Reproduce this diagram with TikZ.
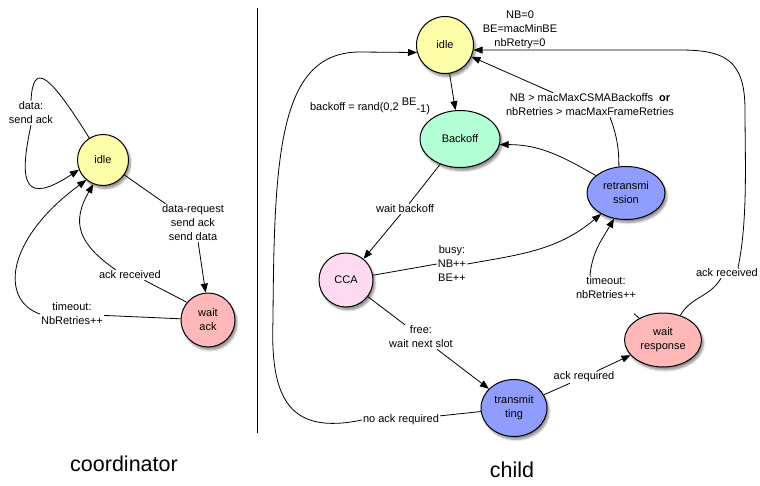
\documentclass[tikz,border=0pt]{standalone}
\usepackage{fontspec}
\setmainfont{Liberation Sans}
\usetikzlibrary{shapes.geometric,arrows.meta,shadows.blur,calc}
\definecolor{cyellow}{HTML}{FFFFAA}
\definecolor{cmint}{HTML}{B3FFD6}
\definecolor{cpink}{HTML}{FFDAF1}
\definecolor{cblue}{HTML}{8F9DFF}
\definecolor{csalmon}{HTML}{FFB8B8}
\begin{document}
\begin{tikzpicture}[x=1pt,y=-1pt,
  every node/.style={font=\fontsize{11}{14}\selectfont},
  st/.style={draw=black, line width=1pt, align=center, inner sep=0pt,
    blur shadow={shadow xshift=2pt, shadow yshift=-3pt, shadow blur steps=6, shadow opacity=45}},
  circ/.style={st, circle},
  ell/.style={st, ellipse},
  lbl/.style={align=center, inner sep=1pt},
  big/.style={font=\fontsize{21.5}{26}\selectfont},
  edge/.style={line width=0.8pt},
  arr/.style={edge, -{Triangle[length=9pt,width=7pt]}},
]
\useasboundingbox (0,0) rectangle (760,485);

% divider
\coordinate (dtop) at (257,8);
\coordinate (dbot) at (257,433);
\draw[edge] (dtop) -- (dbot);

% states
\node[circ, fill=cyellow, minimum size=51pt] (cidle) at (103,160) {idle};
\node[circ, fill=csalmon, minimum size=54pt] (wack) at (208,320) {wait\\ack};
\node[circ, fill=cyellow, minimum size=57pt] (ridle) at (445,45) {idle};
\node[ell, fill=cmint, minimum width=80pt, minimum height=57pt] (backoff) at (460,139) {Backoff};
\node[circ, fill=cpink, minimum size=54pt] (cca) at (346,280) {CCA};
\node[ell, fill=cblue, minimum width=78pt, minimum height=53pt] (retrans) at (626,193) {retransmi\\ssion};
\node[ell, fill=csalmon, minimum width=77pt, minimum height=54pt] (wresp) at (663,340) {wait\\response};
\node[ell, fill=cblue, minimum width=66pt, minimum height=57pt] (transmit) at (514,408) {transmit\\ting};

% labels
\node[lbl] (dlbl) at (31,113) {data:\\send ack};
\node[lbl] (drlbl) at (193,223) {data-request\\send ack\\send data};
\node[lbl] (arlbl) at (130,275) {ack received};
\node[lbl] (tolbl) at (72,314) {timeout:\\NbRetries++};
\node[lbl] (nb0) at (520,30) {NB=0\\BE=macMinBE\\nbRetry=0};
\node[lbl] (bolbl) at (370,106) {backoff = rand(0,2 \raisebox{5pt}{BE}\raisebox{-2pt}{-1)}};
\node[lbl] (nblbl) at (590,105) {NB > macMaxCSMABackoffs\hspace{6pt}\textbf{or}\\nbRetries > macMaxFrameRetries};
\node[lbl] (wblbl) at (405,209) {wait backoff};
\node[lbl] (busy) at (452,264) {busy:\\NB++\\BE++};
\node[lbl] (free) at (421,337) {free:\\wait next slot};
\node[lbl] (ackreq) at (584,377) {ack required};
\node[lbl] (to2) at (606,288) {timeout:\\nbRetries++};
\node[lbl] (ar2) at (727,273) {ack received};
\node[lbl] (noack) at (401,420) {no ack required};
\node[big] (coord) at (124,464) {coordinator};
\node[big] (child) at (512,470) {child};

% coordinator edges
\draw[edge] (cidle.122) .. controls (50,75) and (33,60) .. (dlbl.north);
\draw[arr] (dlbl.south) .. controls (18,185) and (25,205) .. (cidle.202);
\draw[edge] (cidle) -- (drlbl);
\draw[arr] (drlbl.-75) -- (wack.95);
\draw[edge] (wack.140) -- (arlbl.-20);
\draw[arr] (arlbl.160) to[out=145,in=240,looseness=1.3] (cidle.248);
\draw[edge] (wack) -- (tolbl);
\draw[arr] (tolbl.west) .. controls (0,300) and (5,240) .. (cidle.230);

% child edges
\draw[arr] (ridle) -- (backoff);
\draw[edge] (backoff) -- (wblbl);
\draw[arr] (wblbl) -- (cca);
\draw[edge] (cca) -- (busy.west);
\draw[arr] (busy.east) to[out=10,in=220] (retrans);
\draw[arr] (retrans) to[out=150,in=0] (backoff.-8);
\draw[edge] (retrans.105) to[out=90,in=-70] ($(nblbl.south)+(20,0)$);
\draw[arr] ($(nblbl.north)+(-37,0)$) -- (ridle);
\draw[edge] (wresp.55) to[out=60,in=-120] ($(ar2.south)+(-6,0)$);
\draw[arr] ($(ar2.north)+(11,0)$) .. controls (748,220) and (745,160) .. (745,110)
   .. controls (745,60) and (725,50) .. (680,50) -- (ridle.-10);
\draw[edge] (cca) -- (free);
\draw[arr] (free) -- (transmit);
\draw[edge] (transmit) -- (ackreq);
\draw[arr] (ackreq) -- (wresp);
\draw[edge, shorten >=20pt] (wresp) -- (to2);
\draw[arr] ($(to2.north)+(-16,0)$) to[out=85,in=240] (retrans.245);
\draw[edge] (transmit) -- (noack);
\draw[arr] (noack.west) .. controls (290,435) and (270,400) .. (273,320)
   .. controls (274,150) and (280,52) .. (360,52) -- (ridle.195);
\end{tikzpicture}
\end{document}
